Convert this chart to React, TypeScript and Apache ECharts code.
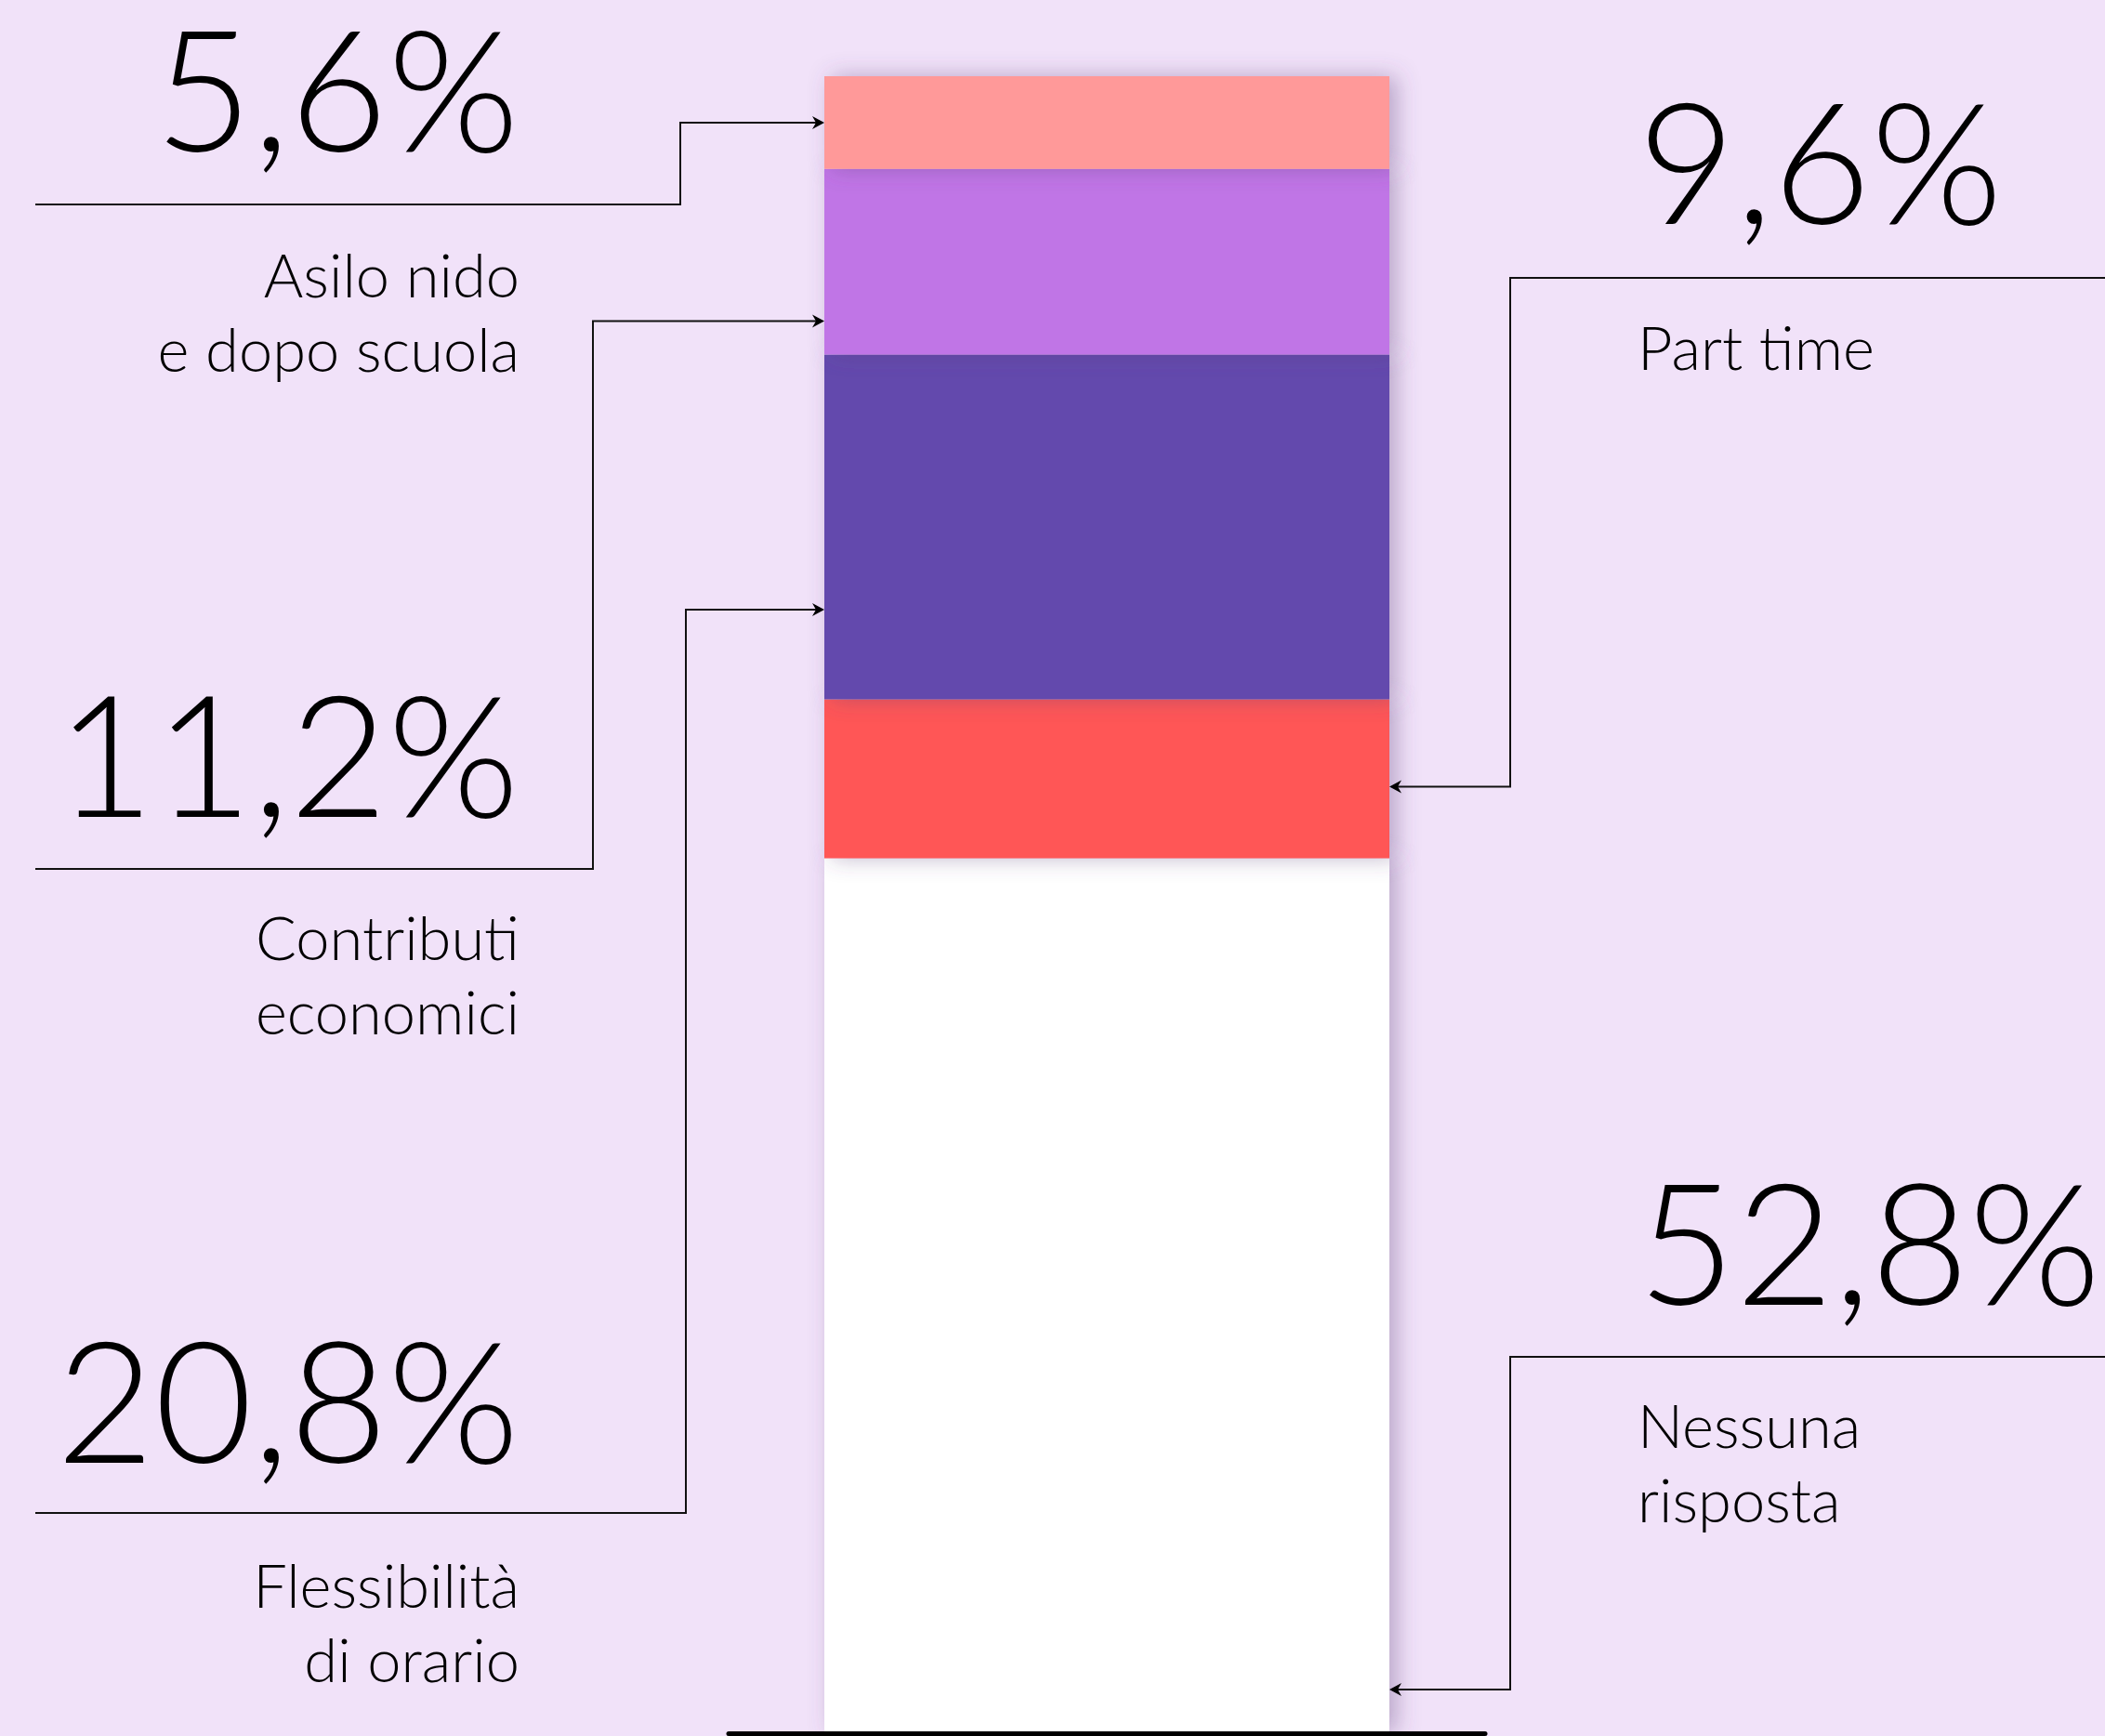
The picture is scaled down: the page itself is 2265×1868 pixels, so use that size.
import React, { useEffect, useRef } from "react";
import * as echarts from "echarts";

const categories = ["Risposte"];
const seriesNames = [
  "Nessuna risposta",
  "Part time",
  "Flessibilità di orario",
  "Contributi economici",
  "Asilo nido e dopo scuola",
];
const seriesValues = [52.8, 9.6, 20.8, 11.2, 5.6];
const valueLabels = ["52,8%", "9,6%", "20,8%", "11,2%", "5,6%"];
const labelLines = [
  ["Nessuna", "risposta"],
  ["Part time"],
  ["Flessibilità", "di orario"],
  ["Contributi", "economici"],
  ["Asilo nido", "e dopo scuola"],
];
const seriesColors = ["#FFFFFF", "#FF5757", "#634AAD", "#C074E6", "#FF9999"];
// where inside each segment the arrow points (fraction of segment from its bottom)
const arrowFractions = [0.05, 0.45, 0.26, 0.18, 0.5];

// layout of each annotation (pixels)
const sides = ["right", "right", "left", "left", "left"];
const numberCenterY = [1333, 170, 1503, 808, 92];
const ruleY = [1460, 299, 1628, 935, 220];
const elbowX = [1625, 1625, 738, 638, 732];
const labelY = [1533, 373, 1705, 1008, 295];

const BG = "#F1E2F9";
const FONT = "Lato";
const LEFT_TEXT_X = 559;
const RIGHT_TEXT_X = 1762;
const LEFT_RULE_X = 38;
const RIGHT_RULE_X = 2265;
const BAR_WIDTH = 608;

export default function App() {
  const ref = useRef<HTMLDivElement>(null);
  useEffect(() => {
    const chart = echarts.init(ref.current!, null, { renderer: "svg" });
    const option: any = {
      animation: false,
      backgroundColor: BG,
      grid: { left: 784, right: 667, top: 82, bottom: 3 },
      xAxis: {
        type: "category",
        data: categories,
        z: 20,
        axisLine: { show: true, lineStyle: { color: "#000", width: 5 } },
        axisTick: { show: false },
        axisLabel: { show: false },
      },
      yAxis: {
        type: "value",
        min: 0,
        max: 100,
        show: false,
        splitLine: { show: false },
      },
      series: seriesValues.map((v, i) => ({
        name: seriesNames[i],
        type: "bar",
        stack: "total",
        barWidth: BAR_WIDTH,
        data: [v],
        itemStyle: {
          color: seriesColors[i],
          shadowBlur: 24,
          shadowColor: "rgba(90,60,120,0.38)",
          shadowOffsetX: 8,
          shadowOffsetY: 0,
        },
      })),
    };
    chart.setOption(option);

    const center = chart.convertToPixel({ gridIndex: 0 } as any, [categories[0], 0]) as number[];
    const barLeft = center[0] - BAR_WIDTH / 2;
    const barRight = center[0] + BAR_WIDTH / 2;

    const graphics: any[] = [];
    let cum = 0;
    seriesValues.forEach((v, i) => {
      const anchorVal = cum + v * arrowFractions[i];
      cum += v;
      const ay = (chart.convertToPixel({ gridIndex: 0 } as any, [categories[0], anchorVal]) as number[])[1];
      const left = sides[i] === "left";
      const tipX = left ? barLeft : barRight;
      const startX = left ? LEFT_RULE_X : RIGHT_RULE_X;
      graphics.push({
        type: "polyline",
        z: 10,
        shape: {
          points: [
            [startX, ruleY[i]],
            [elbowX[i], ruleY[i]],
            [elbowX[i], ay],
            [left ? tipX - 6 : tipX + 6, ay],
          ],
        },
        style: { stroke: "#111", lineWidth: 2, fill: null },
      });
      const d = left ? 1 : -1;
      graphics.push({
        type: "polygon",
        z: 11,
        shape: {
          points: [
            [tipX, ay],
            [tipX - d * 13, ay - 7],
            [tipX - d * 9, ay],
            [tipX - d * 13, ay + 7],
          ],
        },
        style: { fill: "#000" },
      });
      graphics.push({
        type: "text",
        z: 12,
        style: {
          text: valueLabels[i],
          x: left ? LEFT_TEXT_X : RIGHT_TEXT_X,
          y: numberCenterY[i],
          align: left ? "right" : "left",
          verticalAlign: "middle",
          fontFamily: FONT,
          fontWeight: 300,
          fontSize: 182,
          lineHeight: 140,
          fill: "#000",
        },
      });
      labelLines[i].forEach((t, k) => {
        graphics.push({
          type: "text",
          z: 12,
          style: {
            text: t,
            x: left ? LEFT_TEXT_X : RIGHT_TEXT_X,
            y: labelY[i] + k * 80,
            align: left ? "right" : "left",
            verticalAlign: "middle",
            fontFamily: FONT,
            fontWeight: 300,
            fontSize: 65,
            fill: "#000",
          },
        });
      });
    });
    chart.setOption({ graphic: graphics });
    return () => chart.dispose();
  }, []);
  return <div ref={ref} style={{ width: 2265, height: 1868, position: "absolute", left: 0, top: 0 }} />;
}
